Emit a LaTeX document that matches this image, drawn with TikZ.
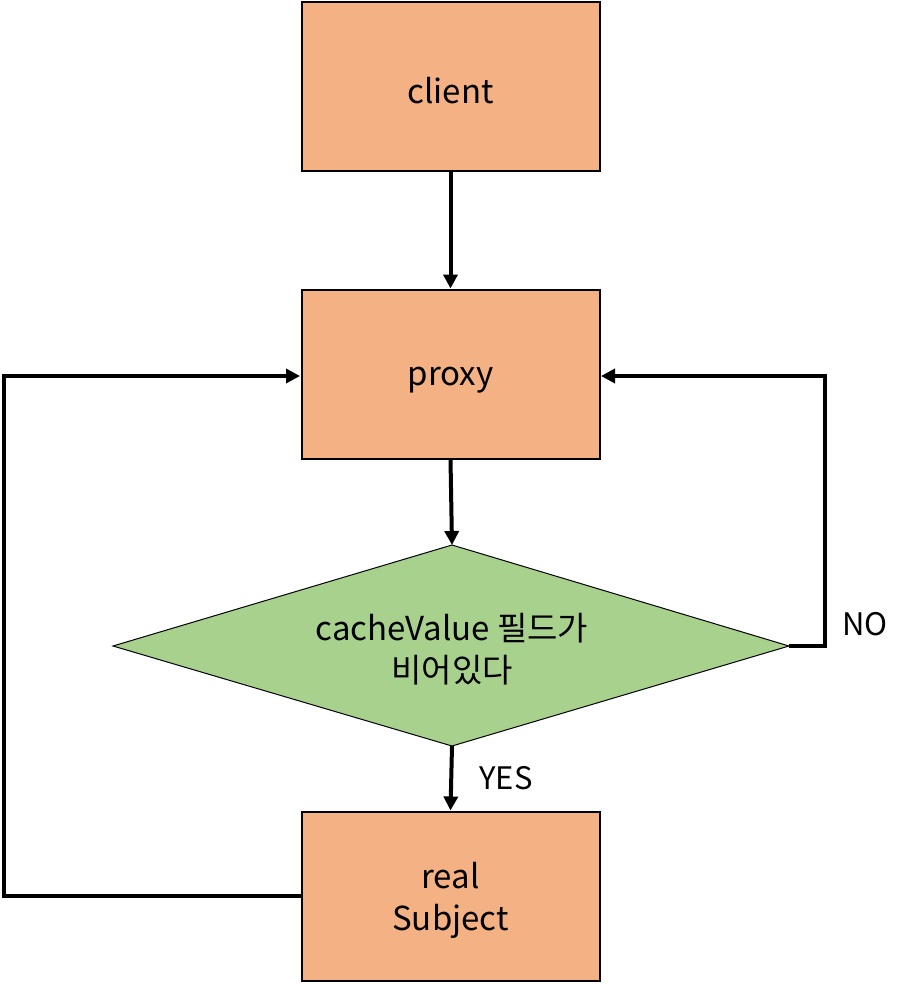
\documentclass[tikz,border=0pt]{standalone}
\usepackage{fontspec}
\setmainfont{Noto Sans CJK KR}
\usetikzlibrary{shapes.geometric,arrows.meta}
\definecolor{boxorange}{HTML}{F4B183}
\definecolor{diagreen}{HTML}{A9D18E}
\begin{document}
\begin{tikzpicture}[x=1pt,y=-1pt,
  procbox/.style={draw=black,line width=2pt,fill=boxorange,minimum width=298pt,minimum height=169pt,inner sep=0pt},
  boxtext/.style={align=center,font=\fontsize{33}{42}\selectfont,inner sep=0pt},
  flow/.style={line width=4pt,-{Triangle[length=14pt,width=14pt]}},
  lbl/.style={font=\fontsize{31}{36}\selectfont,inner sep=0pt}]
\useasboundingbox (0,0) rectangle (916,984);
\node[procbox] (client) at (450.5,87) {};
\node[procbox] (proxy) at (450.5,374) {};
\node[procbox] (real) at (450.5,896) {};
\node[boxtext] (clientt) at (450.5,91) {client};
\node[boxtext] (proxyt) at (450.5,380) {proxy};
\node[boxtext] (realt) at (450.5,900) {real\\Subject};
\fill[diagreen,draw=black,line width=1pt] (113,646) -- (452,545) -- (789,646) -- (452,746) -- cycle;
\node[boxtext] (dec) at (452,649) {cacheValue 필드가\\비어있다};
\coordinate (dl) at (113,646);
\coordinate (dr) at (789,646);
\coordinate (dt) at (452,545);
\coordinate (db) at (452,746);
\draw[flow] (client.south) -- (proxy.north);
\draw[flow] (proxy.south) -- (dt);
\draw[flow] (db) -- (real.north);
\draw[flow,line join=miter] (dr) -- (825,646) -- (825,376) -- (601,376);
\draw[flow,line join=miter] (301,896) -- (4,896) -- (4,376) -- (300,376);
\node[lbl] (yes) at (506,778) {YES};
\node[lbl] (no) at (865,624) {NO};
\end{tikzpicture}
\end{document}
